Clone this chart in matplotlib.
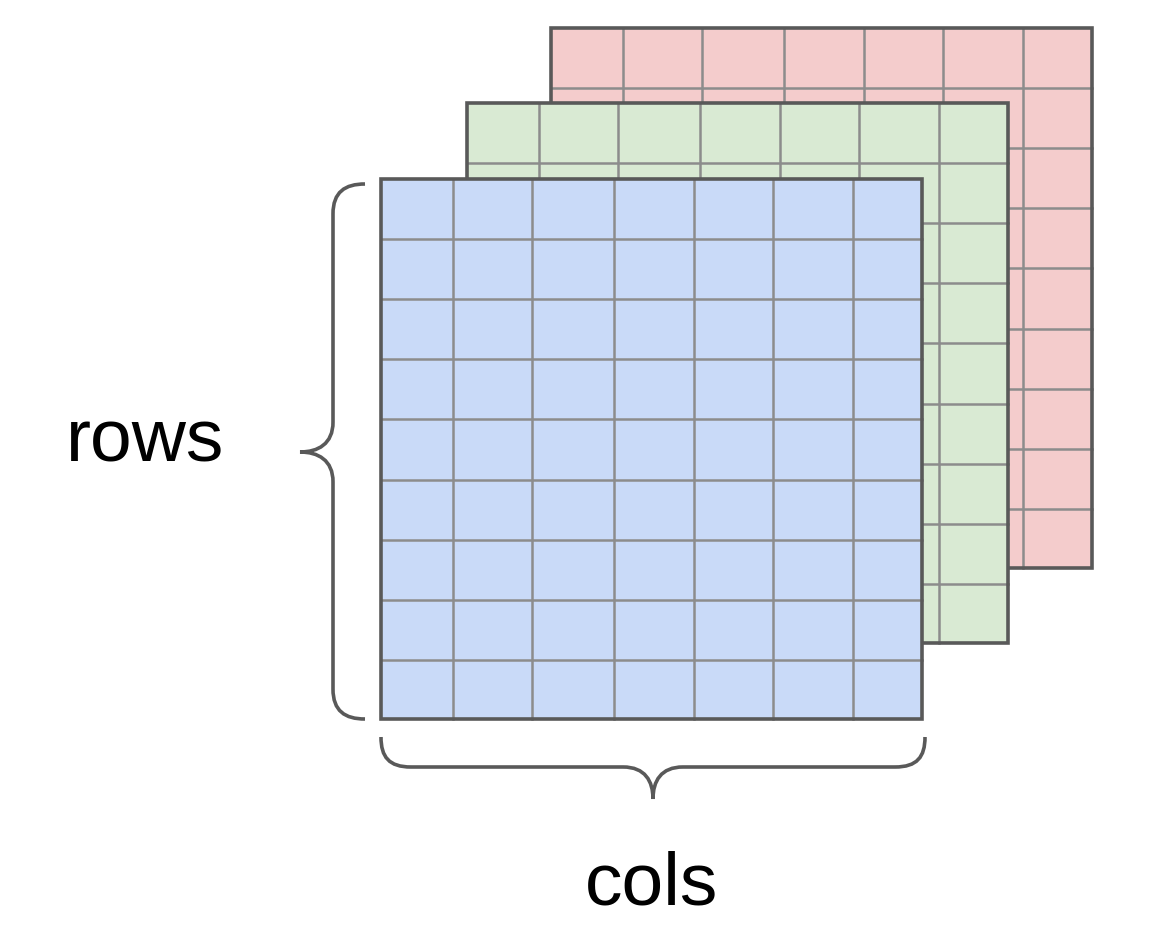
import matplotlib.pyplot as plt
from matplotlib.path import Path
from matplotlib.patches import PathPatch, Rectangle

# grid boundaries of the front layer (pixel units)
col_edges = [381, 453, 532, 614, 694, 773, 853, 922]
row_edges = [180, 240, 300, 360, 420, 481, 541, 601, 661, 720]
layer_offsets = [(170, -151), (86, -76), (0, 0)]
layer_colors = ["#f4cccc", "#d9ead3", "#c9daf8"]

fig = plt.figure(figsize=(11.6, 9.45), dpi=100)
ax = fig.add_axes([0, 0, 1, 1])
ax.set_xlim(0, 1160)
ax.set_ylim(945, 0)
ax.axis("off")

for i, ((dx, dy), color) in enumerate(zip(layer_offsets, layer_colors)):
    z = 1 + 3 * i
    x0, x1 = col_edges[0] + dx, col_edges[-1] + dx
    y0, y1 = row_edges[0] + dy, row_edges[-1] + dy
    ax.add_patch(Rectangle((x0, y0), x1 - x0, y1 - y0, facecolor=color,
                           edgecolor="none", zorder=z))
    for cx in col_edges[1:-1]:
        ax.plot([cx + dx, cx + dx], [y0, y1], color="#8c8c8c", lw=1.8, zorder=z + 1)
    for ry in row_edges[1:-1]:
        ax.plot([x0, x1], [ry + dy, ry + dy], color="#8c8c8c", lw=1.8, zorder=z + 1)
    ax.add_patch(Rectangle((x0, y0), x1 - x0, y1 - y0, facecolor="none",
                           edgecolor="#595959", lw=2.6, zorder=z + 2))


def brace(points):
    codes = [Path.MOVETO] + [Path.CURVE4] * 3 + [Path.LINETO] + [Path.CURVE4] * 3 \
        + [Path.CURVE4] * 3 + [Path.LINETO] + [Path.CURVE4] * 3
    ax.add_patch(PathPatch(Path(points, codes), facecolor="none",
                           edgecolor="#595959", lw=2.6, zorder=20))


# left brace (rows)
xe, xm, xt = 365, 333, 300
yt, yb, yc = 185, 720, 453
brace([(xe, yt), (345, yt), (xm, yt + 8), (xm, yt + 30),
       (xm, yc - 30), (xm, yc - 8), (318, yc), (xt, yc),
       (318, yc), (xm, yc + 8), (xm, yc + 30),
       (xm, yb - 30), (xm, yb - 8), (345, yb), (xe, yb)])

# bottom brace (cols)
xl, xr, xc = 381, 925, 653
ye, ym, ytip = 738, 768, 800
brace([(xl, ye), (xl, 758), (xl + 8, ym), (xl + 30, ym),
       (xc - 30, ym), (xc - 8, ym), (xc, 782), (xc, ytip),
       (xc, 782), (xc + 8, ym), (xc + 30, ym),
       (xr - 30, ym), (xr - 8, ym), (xr, 758), (xr, ye)])

ax.text(145, 442, "rows", fontsize=54, family="Liberation Sans",
        ha="center", va="center")
ax.text(652, 885, "cols", fontsize=54, family="Liberation Sans",
        ha="center", va="center")

fig.savefig("out.png", dpi=100, facecolor="white")
